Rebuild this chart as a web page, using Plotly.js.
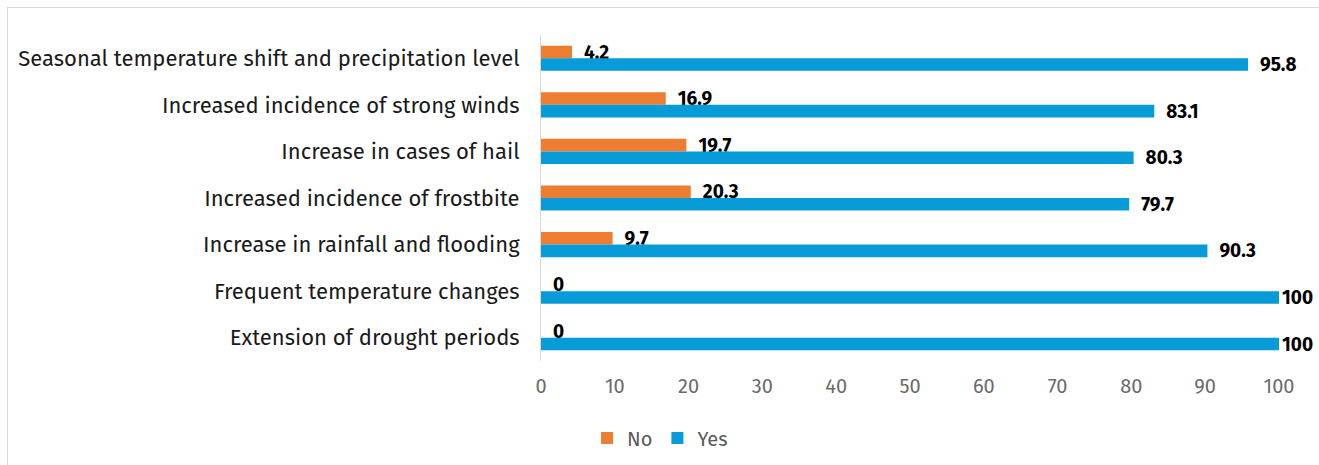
<!DOCTYPE html>
<html><head><meta charset="utf-8">
<script src="https://cdn.plot.ly/plotly-3.0.1.min.js"></script>
<style>
html,body{margin:0;padding:0;background:#fff;}
#wrap{position:absolute;left:7px;top:7px;width:1330px;height:470px;border:1px solid #d9d9d9;box-sizing:border-box;}
#chart{position:absolute;left:0;top:0;width:1312px;height:458px;}
</style></head>
<body><div id="wrap"><div id="chart"></div></div>
<script>
const categories = [
  "Seasonal temperature shift and precipitation level",
  "Increased incidence of strong winds",
  "Increase in cases of hail",
  "Increased incidence of frostbite",
  "Increase in rainfall and flooding",
  "Frequent temperature changes",
  "Extension of drought periods"
];
const noValues = [4.2, 16.9, 19.7, 20.3, 9.7, 0, 0];
const yesValues = [95.8, 83.1, 80.3, 79.7, 90.3, 100, 100];
const xTicks = [0,10,20,30,40,50,60,70,80,90,100];

const font = "'Fira Sans','Noto Sans','Open Sans',sans-serif";
const mk = (name, vals, color) => ({
  type: 'bar', orientation: 'h', name: name,
  y: categories, x: vals,
  marker: {color: color},
  text: vals.map(v => (v >= 100 ? '' : '\u00a0\u00a0') + String(v)),
  textposition: 'outside', constraintext: 'none',
  textfont: {family: font, size: 19, color: '#000', weight: 'bold'},
  cliponaxis: false, hoverinfo: 'none'
});
const data = [mk('No', noValues, '#ED7D31'), mk('Yes', yesValues, '#079BD7')];
const layout = {
  width: 1312, height: 458,
  margin: {l: 533, r: 41, t: 27, b: 105},
  barmode: 'group', bargap: 0.46, bargroupgap: 0,
  showlegend: true,
  legend: {orientation: 'h', xref: 'container', x: 0.497, xanchor: 'center',
           yref: 'container', y: 0.061, yanchor: 'middle',
           font: {family: font, size: 20, color: '#595959'}, traceorder: 'normal'},
  xaxis: {range: [0, 100], tickvals: xTicks, showgrid: false, zeroline: false,
          showline: false, ticks: '', ticklabelstandoff: 11,
          tickfont: {family: font, size: 20, color: '#6b6b6b'}},
  yaxis: {autorange: 'reversed', showgrid: false, zeroline: false, showline: true,
          linecolor: '#d9d9d9', linewidth: 1, ticks: '', ticklen: 0, ticklabelstandoff: 16,
          tickfont: {family: font, size: 22, color: '#1a1a1a'}},
  plot_bgcolor: '#fff', paper_bgcolor: '#fff'
};
Plotly.newPlot('chart', data, layout, {displayModeBar: false, staticPlot: true});
</script></body></html>
